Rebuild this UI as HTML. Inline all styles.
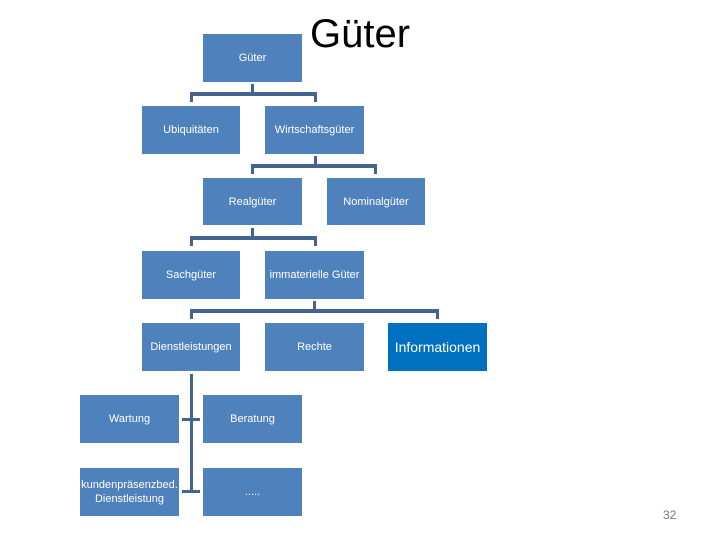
<!DOCTYPE html>
<html><head><meta charset="utf-8"><style>
body{margin:0;width:720px;height:540px;background:#fff;position:relative;overflow:hidden;font-family:"Liberation Sans",sans-serif}
.b{position:absolute;background:#4f81bd;color:#fff;font-size:11px;display:flex;align-items:center;justify-content:center;text-align:center;line-height:14px}
.l{position:absolute;background:#42648f}
</style></head><body>
<div style="position:absolute;left:310px;top:12px;font-size:40px;line-height:44px;color:#000">Güter</div>
<div style="position:absolute;left:663px;top:508px;font-size:12px;color:#777">32</div>

<div class="b" style="left:203px;top:34px;width:99px;height:48px">Güter</div>
<div class="b" style="left:142px;top:106px;width:98px;height:48px">Ubiquitäten</div>
<div class="b" style="left:265px;top:106px;width:99px;height:48px">Wirtschaftsgüter</div>
<div class="b" style="left:203px;top:178px;width:99px;height:47px">Realgüter</div>
<div class="b" style="left:327px;top:178px;width:98px;height:47px">Nominalgüter</div>
<div class="b" style="left:142px;top:251px;width:98px;height:48px">Sachgüter</div>
<div class="b" style="left:265px;top:251px;width:99px;height:48px">immaterielle Güter</div>
<div class="b" style="left:142px;top:323px;width:98px;height:48px">Dienstleistungen</div>
<div class="b" style="left:265px;top:323px;width:99px;height:48px">Rechte</div>
<div class="b" style="left:388px;top:323px;width:99px;height:48px;background:#0070c0;font-size:14px">Informationen</div>
<div class="b" style="left:80px;top:395px;width:99px;height:48px">Wartung</div>
<div class="b" style="left:203px;top:395px;width:99px;height:48px">Beratung</div>
<div class="b" style="left:80px;top:468px;width:99px;height:48px">kundenpräsenzbed.<br>Dienstleistung</div>
<div class="b" style="left:203px;top:468px;width:99px;height:48px">.....</div>

<!-- Güter connectors -->
<div class="l" style="left:251px;top:84px;width:3px;height:10px"></div>
<div class="l" style="left:190px;top:92px;width:127px;height:4px"></div>
<div class="l" style="left:190px;top:92px;width:3px;height:10px"></div>
<div class="l" style="left:314px;top:92px;width:3px;height:10px"></div>
<!-- Wirtschaft -->
<div class="l" style="left:314px;top:156px;width:3px;height:10px"></div>
<div class="l" style="left:251px;top:164px;width:126px;height:4px"></div>
<div class="l" style="left:251px;top:164px;width:3px;height:10px"></div>
<div class="l" style="left:374px;top:164px;width:3px;height:10px"></div>
<!-- Real -->
<div class="l" style="left:251px;top:228px;width:3px;height:10px"></div>
<div class="l" style="left:190px;top:236px;width:127px;height:4px"></div>
<div class="l" style="left:190px;top:236px;width:3px;height:10px"></div>
<div class="l" style="left:314px;top:236px;width:3px;height:10px"></div>
<!-- immaterielle -->
<div class="l" style="left:313px;top:301px;width:3px;height:10px"></div>
<div class="l" style="left:190px;top:309px;width:249px;height:4px"></div>
<div class="l" style="left:190px;top:309px;width:3px;height:10px"></div>
<div class="l" style="left:436px;top:309px;width:3px;height:10px"></div>
<!-- Dienstleistungen -->
<div class="l" style="left:190px;top:374px;width:3px;height:119px"></div>
<div class="l" style="left:182px;top:418px;width:18px;height:3px"></div>
<div class="l" style="left:182px;top:490px;width:18px;height:3px"></div>
</body></html>
